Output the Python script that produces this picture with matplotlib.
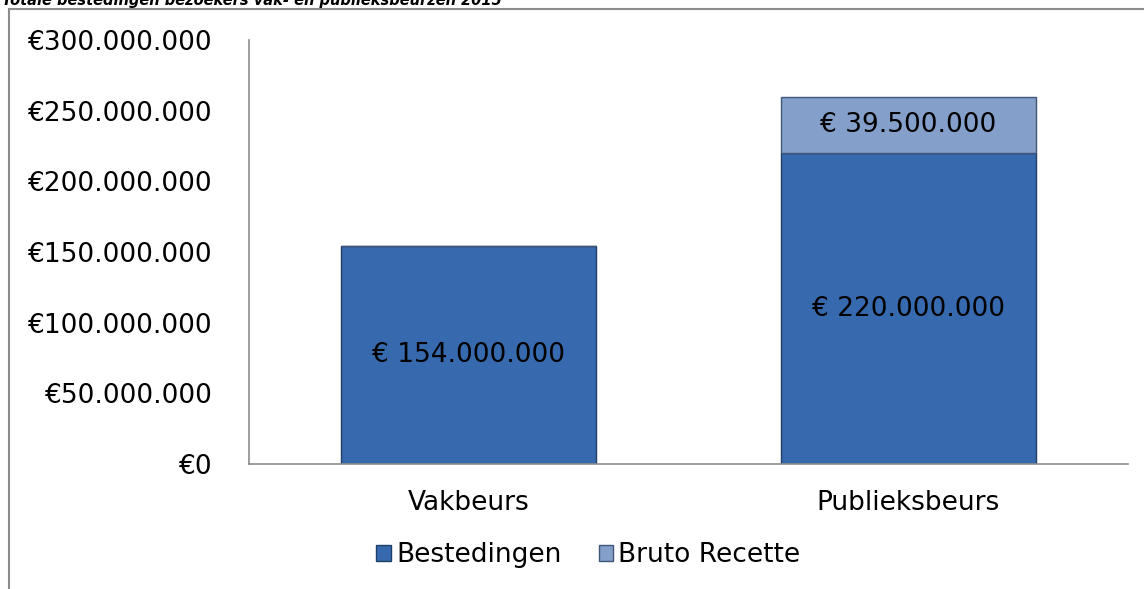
import matplotlib.pyplot as plt
from matplotlib.lines import Line2D
from matplotlib.ticker import FuncFormatter

plt.rcParams['font.family'] = ['DejaVu Sans']

categories = ['Vakbeurs', 'Publieksbeurs']
bestedingen = [154000000, 220000000]
bruto_recette = [0, 39500000]
title = 'Totale bestedingen bezoekers vak- en publieksbeurzen 2015'


def euro(v, pos=None):
    return '€' + f'{int(v):,}'.replace(',', '.')


fig = plt.figure(figsize=(11.44, 5.89), dpi=100)
ax = fig.add_axes([249 / 1144, 1 - 464 / 589, 879 / 1144, 424 / 589])

x = range(len(categories))
ax.bar(x, bestedingen, width=0.58, color='#3669AD', edgecolor='#1F3F66',
       linewidth=1.0, label='Bestedingen')
ax.bar(x, bruto_recette, width=0.58, bottom=bestedingen, color='#849FCA',
       edgecolor='#3F5678', linewidth=1.0, label='Bruto Recette')

for i in x:
    ax.text(i, bestedingen[i] / 2, euro(bestedingen[i]).replace('€', '€ '),
            ha='center', va='center', fontsize=19)
    if bruto_recette[i] > 0:
        ax.text(i, bestedingen[i] + bruto_recette[i] / 2,
                euro(bruto_recette[i]).replace('€', '€ '),
                ha='center', va='center', fontsize=19)

ax.set_xlim(-0.5, 1.5)
ax.set_ylim(0, 300000000)
ax.set_yticks(range(0, 300000001, 50000000))
ax.yaxis.set_major_formatter(FuncFormatter(euro))
ax.set_xticks(list(x))
ax.set_xticklabels(categories)
ax.tick_params(axis='y', length=0, pad=26, labelsize=19)
ax.tick_params(axis='x', length=0, pad=19, labelsize=19)
for s in ['top', 'right']:
    ax.spines[s].set_visible(False)
for s in ['left', 'bottom']:
    ax.spines[s].set_color('#8C8C8C')
    ax.spines[s].set_linewidth(1.2)

ax.legend(loc='center', bbox_to_anchor=(0.5 - 100 / 879, (464 - 555) / 424),
          ncol=2, frameon=False, fontsize=19, handlelength=0.55,
          handleheight=0.55, handletextpad=0.2, columnspacing=1.4)

# outer frame (partially cropped)
fig.add_artist(Line2D([9 / 1144, 9 / 1144], [0, 1 - 9 / 589],
                      transform=fig.transFigure, color='#8C8C8C', lw=1.5))
fig.add_artist(Line2D([9 / 1144, 1], [1 - 9 / 589, 1 - 9 / 589],
                      transform=fig.transFigure, color='#8C8C8C', lw=1.5))

fig.text(2 / 1144, 1 - 1 / 589, title, ha='left', va='center',
         fontsize=10.5, fontweight='bold', fontstyle='italic')

fig.savefig('out.png', dpi=100)
